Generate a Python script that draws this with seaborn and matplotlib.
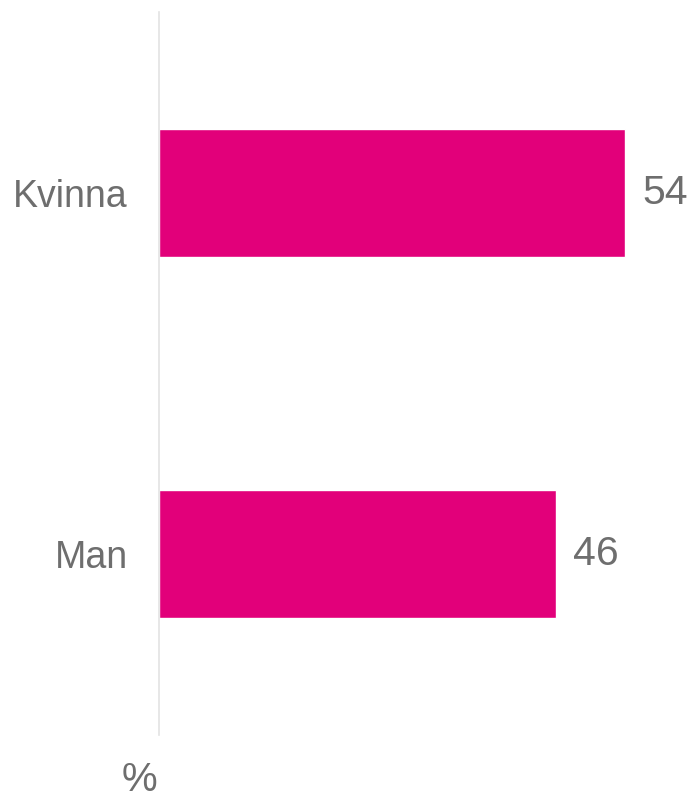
import pandas as pd
import seaborn as sns
import matplotlib.pyplot as plt

# data
categories = ['Kvinna', 'Man']
values = [54, 46]

bar_color = '#E2007A'
text_color = '#6E6E6E'

sns.set_style('white')
plt.rcParams['font.family'] = ['Liberation Sans', 'DejaVu Sans']

df = pd.DataFrame({'kon': categories, 'andel': values})

fig = plt.figure(figsize=(6.97, 8.01), dpi=100)
ax = fig.add_axes([159 / 697, 66 / 801, 1 - 159 / 697, 723 / 801])

sns.barplot(data=df, x='andel', y='kon', orient='h', color=bar_color,
            width=0.355, saturation=1, ax=ax)

ax.set_xlim(0, 62.3)
ax.set_ylim(1.5, -0.5)
ax.set_xlabel('')
ax.set_ylabel('')
ax.set_xticks([])

# value labels next to the bars
for i, v in enumerate(values):
    ax.annotate(str(v), xy=(v, i), xytext=(12, 0), textcoords='offset points',
                va='center', ha='left', fontsize=29.5, color=text_color)

ax.tick_params(axis='y', length=0, pad=22.5, labelsize=27, labelcolor=text_color)

for side in ['top', 'right', 'bottom']:
    ax.spines[side].set_visible(False)
ax.spines['left'].set_color('#E3E3E3')
ax.spines['left'].set_linewidth(1.2)

fig.text(139 / 697, 1 - 780 / 801, '%', ha='center', va='center',
         fontsize=29, color=text_color)

plt.savefig('out.png', dpi=100)
